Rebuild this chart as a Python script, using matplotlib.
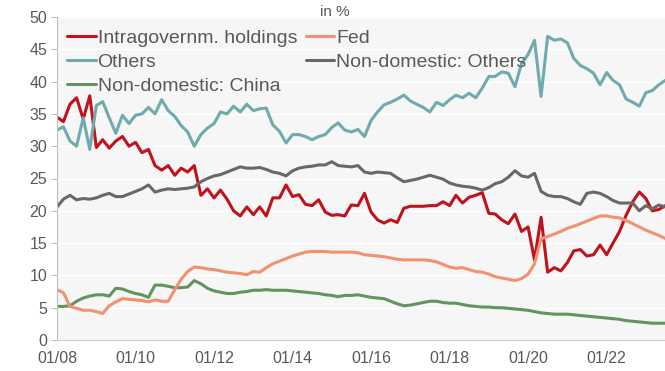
import numpy as np
import pandas as pd
import matplotlib
matplotlib.use("Agg")
import matplotlib.pyplot as plt
import matplotlib.dates as mdates

plt.rcParams['font.family'] = ['Liberation Sans', 'DejaVu Sans']

# Holders of US Treasury debt, share of total in %, bimonthly observations
dates = pd.date_range("2008-01-01", periods=94, freq="2MS")

intragov = [
    34.5, 33.8, 36.5, 37.5, 34.2, 37.8, 29.8, 31.0, 29.7, 30.8,
    31.5, 30.0, 30.6, 29.0, 29.5, 27.0, 26.3, 27.0, 25.5, 26.6,
    26.0, 27.0, 22.4, 23.4, 22.0, 23.2, 21.8, 20.0, 19.2, 20.6,
    19.4, 20.6, 19.2, 22.0, 22.0, 24.0, 22.2, 22.5, 21.0, 20.8,
    21.7, 19.8, 19.3, 19.4, 19.2, 20.9, 20.8, 22.7, 19.8, 18.6,
    18.1, 18.6, 18.2, 20.4, 20.7, 20.7, 20.7, 20.8, 20.8, 21.4,
    20.8, 22.4, 21.2, 22.1, 22.4, 22.8, 19.6, 19.5, 18.6, 18.0,
    19.5, 16.8, 17.5, 12.4, 19.0, 10.5, 11.2, 10.7, 12.0, 13.8,
    14.0, 13.0, 13.2, 14.7, 13.2, 15.0, 16.8, 19.3, 21.4, 22.9,
    21.9, 20.0, 20.2, 20.8,
]

fed = [
    7.8, 7.3, 5.2, 4.9, 4.6, 4.6, 4.4, 4.1, 5.3, 5.9,
    6.4, 6.3, 6.2, 6.1, 5.9, 6.2, 6.0, 6.0, 7.8, 9.4,
    10.6, 11.3, 11.2, 11.0, 10.9, 10.7, 10.5, 10.4, 10.3, 10.1,
    10.6, 10.5, 11.2, 11.8, 12.2, 12.6, 13.0, 13.3, 13.6, 13.7,
    13.7, 13.7, 13.6, 13.6, 13.6, 13.6, 13.5, 13.2, 13.1, 13.0,
    12.9, 12.7, 12.5, 12.4, 12.4, 12.4, 12.4, 12.3, 12.1, 11.7,
    11.3, 11.1, 11.2, 10.9, 10.6, 10.5, 10.2, 9.8, 9.6, 9.4,
    9.2, 9.5, 10.2, 11.8, 15.7, 16.0, 16.4, 16.8, 17.3, 17.6,
    18.0, 18.4, 18.8, 19.2, 19.2, 19.0, 18.9, 18.5, 18.0, 17.5,
    17.0, 16.6, 16.2, 15.7,
]

others = [
    32.5, 33.0, 30.8, 30.0, 34.4, 29.5, 36.3, 36.9, 34.4, 32.0,
    34.8, 33.5, 34.8, 35.0, 36.0, 35.0, 37.2, 35.5, 34.6, 33.2,
    32.2, 30.0, 31.8, 32.8, 33.5, 35.3, 35.0, 36.2, 35.3, 36.5,
    35.5, 35.8, 35.9, 33.3, 32.3, 30.5, 31.8, 31.8, 31.5, 31.0,
    31.5, 31.8, 32.9, 33.6, 32.5, 32.2, 32.6, 31.5, 34.0, 35.3,
    36.4, 36.8, 37.3, 37.9, 37.0, 36.5, 36.0, 35.3, 36.8, 36.3,
    37.2, 37.9, 37.5, 38.2, 37.5, 39.0, 40.8, 40.8, 41.5, 41.3,
    39.2, 42.8, 44.2, 46.4, 37.7, 47.0, 46.4, 46.6, 46.0, 43.6,
    42.5, 42.0, 41.3, 39.5, 41.4, 40.2, 39.5, 37.3, 36.8, 36.2,
    38.3, 38.6, 39.5, 40.2,
]

nondom_others = [
    20.6, 21.8, 22.4, 21.7, 21.9, 21.8, 22.0, 22.4, 22.7, 22.2,
    22.2, 22.6, 23.0, 23.4, 24.0, 22.9, 23.2, 23.4, 23.3, 23.4,
    23.5, 23.7, 24.5, 25.0, 25.4, 25.6, 26.0, 26.4, 26.8, 26.6,
    26.6, 26.7, 26.4, 26.0, 25.8, 25.4, 26.2, 26.6, 26.8, 26.9,
    27.1, 27.1, 27.6, 27.0, 26.9, 26.8, 27.0, 26.0, 25.8, 26.0,
    25.9, 25.8, 25.1, 24.5, 24.7, 24.9, 25.2, 25.5, 25.2, 24.9,
    24.3, 24.0, 23.8, 23.7, 23.5, 23.2, 23.6, 24.2, 24.5, 25.2,
    26.2, 25.4, 25.2, 25.8, 23.0, 22.4, 22.2, 22.2, 21.9, 21.4,
    21.0, 22.7, 22.9, 22.7, 22.2, 21.6, 21.2, 21.2, 21.2, 20.0,
    20.8, 20.3, 20.9, 20.6,
]

china = [
    5.2, 5.2, 5.3, 6.0, 6.5, 6.8, 7.0, 7.0, 6.8, 8.0,
    7.9, 7.5, 7.2, 7.0, 6.6, 8.5, 8.5, 8.3, 8.1, 8.1,
    8.2, 9.2, 8.7, 8.0, 7.6, 7.4, 7.2, 7.2, 7.4, 7.5,
    7.7, 7.7, 7.8, 7.7, 7.7, 7.7, 7.6, 7.5, 7.4, 7.3,
    7.2, 7.0, 6.9, 6.7, 6.9, 6.9, 7.0, 6.8, 6.6, 6.5,
    6.4, 6.0, 5.6, 5.3, 5.4, 5.6, 5.8, 6.0, 6.0, 5.8,
    5.7, 5.7, 5.5, 5.3, 5.2, 5.1, 5.1, 5.0, 5.0, 4.9,
    4.8, 4.7, 4.6, 4.4, 4.2, 4.1, 4.0, 4.0, 4.0, 3.9,
    3.8, 3.7, 3.6, 3.5, 3.4, 3.3, 3.2, 3.0, 2.9, 2.8,
    2.7, 2.6, 2.6, 2.6,
]

series = [
    ("Intragovernm. holdings", intragov, "#c0121c"),
    ("Others", others, "#6fabad"),
    ("Non-domestic: China", china, "#629462"),
    ("Fed", fed, "#f2906f"),
    ("Non-domestic: Others", nondom_others, "#686868"),
]

text_color = "#595959"

fig = plt.figure(figsize=(6.65, 3.71), dpi=100)
ax = fig.add_axes([57 / 665, 31 / 371, 1 - 57 / 665, (340 - 17) / 371])
ax.set_facecolor("#f6f6f6")

for label, values, color in series:
    ax.plot(dates, values, color=color, lw=2.2, label=label,
            solid_joinstyle="round", solid_capstyle="round")

ax.set_ylim(0, 50)
ax.set_yticks(np.arange(0, 51, 5))
ax.set_xlim(pd.Timestamp("2008-01-01"), pd.Timestamp("2023-06-28"))
ax.xaxis.set_major_locator(mdates.YearLocator(2))
ax.xaxis.set_major_formatter(mdates.DateFormatter("%m/%y"))

ax.grid(axis="y", color="#ffffff", lw=1.0)
ax.set_axisbelow(True)

for side in ("top", "right"):
    ax.spines[side].set_visible(False)
ax.spines["left"].set_color("#bfbfbf")
ax.spines["bottom"].set_color("#d0d0d0")

ax.tick_params(axis="y", length=4, color="#bfbfbf", labelsize=11.5,
               labelcolor=text_color, pad=3)
ax.tick_params(axis="x", length=0, labelsize=11.5, labelcolor=text_color, pad=8)

leg = ax.legend(loc="upper left", ncol=2, frameon=False, fontsize=14,
                handlelength=1.45, handletextpad=0.1, columnspacing=0.45,
                labelspacing=0.32, borderaxespad=0.2,
                bbox_to_anchor=(-0.002, 0.998))
for t in leg.get_texts():
    t.set_color(text_color)

fig.text(335 / 665, 1 - 12 / 371, "in %", ha="center", va="center",
         fontsize=11, color=text_color)

fig.savefig("out.png", dpi=100)
